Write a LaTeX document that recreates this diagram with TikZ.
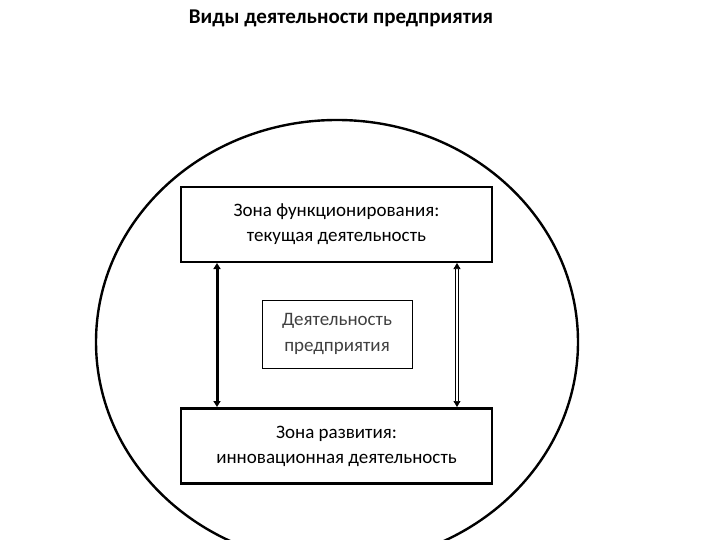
\documentclass[tikz,border=0pt]{standalone}
\usepackage{fontspec}
\setmainfont{Carlito}
\usetikzlibrary{arrows.meta}
\begin{document}
\begin{tikzpicture}[x=1pt,y=-1pt,
  zone/.style={draw,line width=2.5pt,minimum width=311pt,minimum height=75pt,align=center,font=\fontsize{19}{25}\selectfont},
  mid/.style={draw,line width=0.7pt,minimum width=150pt,minimum height=68pt,align=center,font=\fontsize{19}{26}\selectfont,text=black!75}]
\useasboundingbox (0,0) rectangle (720,540);
\begin{scope}
\clip (0,0) rectangle (720,540);
\draw[line width=2.4pt] (337,342) ellipse [x radius=241, y radius=222];
\end{scope}
\node[font=\bfseries\fontsize{21}{25}\selectfont] (title) at (341,18) {Виды деятельности предприятия};
\node[zone] (top) at (336.5,224.5) {Зона функционирования:\\текущая деятельность};
\node[zone] (bot) at (336.5,446) {Зона развития:\\инновационная деятельность};
\node[mid] (m) at (337,334) {Деятельность\\предприятия};
\coordinate (a1) at (217,263); \coordinate (a2) at (217,407);
\draw[line width=3pt,{Triangle[length=6pt,width=7pt]}-{Triangle[length=6pt,width=7pt]}] (a1) -- (a2);
\coordinate (b1) at (457,263); \coordinate (b2) at (457,407);
\draw[double,double distance=2pt,line width=0.7pt,{Triangle[length=6pt,width=7pt]}-{Triangle[length=6pt,width=7pt]}] (b1) -- (b2);
\end{tikzpicture}
\end{document}
